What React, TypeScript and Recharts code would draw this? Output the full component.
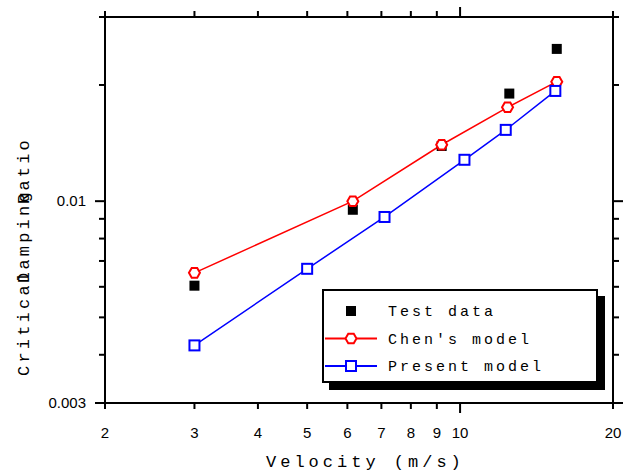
import { ComposedChart, Line, Scatter, XAxis, YAxis, Legend } from 'recharts'

const X_TICKS = [2, 3, 4, 5, 6, 7, 8, 9, 10, 20]
const Y_TICKS = [0.003, 0.004, 0.005, 0.006, 0.007, 0.008, 0.009, 0.01, 0.02, 0.03]
const Y_LABELED = [0.003, 0.01]
const X_MAJOR = [10]
const Y_MAJOR = [0.003, 0.01]

const testVel = [3, 6.15, 9.2, 12.5, 15.5]
const testRatio = [0.00604, 0.0095, 0.0139, 0.019, 0.0248]

const chenVel = [3, 6.15, 9.2, 12.4, 15.5]
const chenRatio = [0.00652, 0.01, 0.014, 0.0175, 0.0204]

const presentVel = [3, 5, 7.1, 10.2, 12.3, 15.4]
const presentRatio = [0.00423, 0.00668, 0.0091, 0.0128, 0.0153, 0.0193]

const toPoints = (xs: number[], ys: number[]) => xs.map((x, i) => ({ x, y: ys[i] }))

const testData = toPoints(testVel, testRatio)
const chenData = toPoints(chenVel, chenRatio)
const presentData = toPoints(presentVel, presentRatio)

const MONO = '"Liberation Mono", "DejaVu Sans Mono", monospace'
const SANS = '"Liberation Sans", Arial, sans-serif'

function Hexagon({ cx, cy, r = 5.5 }: { cx: number; cy: number; r?: number }) {
  const pts = [0, 1, 2, 3, 4, 5]
    .map((i) => {
      const a = (Math.PI / 3) * i
      return `${cx + r * Math.cos(a)},${cy + r * Math.sin(a)}`
    })
    .join(' ')
  return <polygon points={pts} fill="#fff" stroke="#ff0000" strokeWidth={2} />
}

function OpenSquare({ cx, cy }: { cx: number; cy: number }) {
  return <rect x={cx - 5} y={cy - 5} width={10} height={10} fill="#fff" stroke="#0000ff" strokeWidth={2} />
}

function FilledSquare({ cx, cy }: { cx: number; cy: number }) {
  return <rect x={cx - 5} y={cy - 5} width={10} height={10} fill="#000" />
}

function xTick(side: 'bottom' | 'top') {
  return (props: any) => {
    const { x, y, payload } = props
    const len = X_MAJOR.includes(payload.value) ? 10 : 6
    const dir = side === 'bottom' ? 1 : -1
    return (
      <g>
        <line x1={x} y1={y} x2={x} y2={y + dir * len} stroke="#000" strokeWidth={2} />
        {side === 'bottom' && (
          <text x={x} y={y + 35} textAnchor="middle" fontFamily={SANS} fontSize={15} fill="#000">
            {payload.value}
          </text>
        )}
      </g>
    )
  }
}

function yTick(side: 'left' | 'right') {
  return (props: any) => {
    const { x, y, payload } = props
    const len = Y_MAJOR.includes(payload.value) ? 10 : 6
    const dir = side === 'left' ? -1 : 1
    return (
      <g>
        <line x1={x} y1={y} x2={x + dir * len} y2={y} stroke="#000" strokeWidth={2} />
        {side === 'left' && Y_LABELED.includes(payload.value) && (
          <text x={x - 19} y={y + 5} textAnchor="end" fontFamily={SANS} fontSize={15} fill="#000">
            {payload.value}
          </text>
        )}
      </g>
    )
  }
}

function LegendBox() {
  const rows = [
    { name: 'Test data', kind: 'test' },
    { name: "Chen's model", kind: 'chen' },
    { name: 'Present model', kind: 'present' },
  ]
  return (
    <div
      style={{
        width: 272,
        height: 90,
        border: '2px solid #000',
        background: '#fff',
        boxShadow: '7px 7px 0 #000',
      }}
    >
      <svg width={272} height={90}>
        {rows.map((r, i) => {
          const cy = 20 + i * 27.5
          return (
            <g key={r.name}>
              {r.kind === 'chen' && <line x1={1} y1={cy} x2={53} y2={cy} stroke="#ff0000" strokeWidth={2} />}
              {r.kind === 'present' && <line x1={1} y1={cy} x2={53} y2={cy} stroke="#0000ff" strokeWidth={2} />}
              {r.kind === 'test' && <FilledSquare cx={27} cy={cy} />}
              {r.kind === 'chen' && <Hexagon cx={27} cy={cy} />}
              {r.kind === 'present' && <OpenSquare cx={27} cy={cy} />}
              <text x={64} y={cy + 5} fontFamily={MONO} fontSize={15} letterSpacing={3} fill="#000">
                {r.name}
              </text>
            </g>
          )
        })}
      </svg>
    </div>
  )
}

const axisLine = { stroke: '#000', strokeWidth: 2 }

export default function App() {
  return (
    <div style={{ position: 'absolute', left: 0, top: 0, background: '#fff' }}>
      <ComposedChart width={628} height={471} margin={{ top: 7, right: 5, bottom: 28, left: 45 }}>
        <XAxis
          xAxisId="b"
          dataKey="x"
          type="number"
          scale="log"
          domain={[2, 20]}
          ticks={X_TICKS}
          allowDataOverflow
          height={40}
          tickSize={0}
          tickMargin={0}
          tickLine={false}
          axisLine={axisLine}
          tick={xTick('bottom')}
          interval={0}
          label={(p: any) => {
            const vb = p.viewBox
            return (
              <text x={266} y={vb.y + 64} fontFamily={MONO} fontSize={17} letterSpacing={4} fill="#000">
                Velocity (m/s)
              </text>
            )
          }}
        />
        <XAxis
          xAxisId="t"
          orientation="top"
          dataKey="x"
          type="number"
          scale="log"
          domain={[2, 20]}
          ticks={X_TICKS}
          allowDataOverflow
          height={10}
          tickSize={0}
          tickMargin={0}
          tickLine={false}
          axisLine={axisLine}
          tick={xTick('top')}
          interval={0}
        />
        <YAxis
          yAxisId="l"
          dataKey="y"
          type="number"
          scale="log"
          domain={[0.003, 0.03]}
          ticks={Y_TICKS}
          allowDataOverflow
          width={60}
          tickSize={0}
          tickMargin={0}
          tickLine={false}
          axisLine={axisLine}
          tick={yTick('left')}
          interval={0}
          label={() => (
            <g fontFamily={MONO} fontSize={17} letterSpacing={3.2} fill="#000">
              <text x={29} y={376} transform="rotate(-90, 29, 376)">Critical</text>
              <text x={29} y={283} transform="rotate(-90, 29, 283)">Damping</text>
              <text x={29} y={204} transform="rotate(-90, 29, 204)">Ratio</text>
            </g>
          )}
        />
        <YAxis
          yAxisId="r"
          orientation="right"
          dataKey="y"
          type="number"
          scale="log"
          domain={[0.003, 0.03]}
          ticks={Y_TICKS}
          allowDataOverflow
          width={10}
          tickSize={0}
          tickMargin={0}
          tickLine={false}
          axisLine={axisLine}
          tick={yTick('right')}
          interval={0}
        />
        <Line
          xAxisId="b"
          yAxisId="l"
          data={chenData}
          dataKey="y"
          stroke="#ff0000"
          strokeWidth={1.5}
          isAnimationActive={false}
          dot={(p: any) => <Hexagon key={`c${p.index}`} cx={p.cx} cy={p.cy} />}
        />
        <Line
          xAxisId="b"
          yAxisId="l"
          data={presentData}
          dataKey="y"
          stroke="#0000ff"
          strokeWidth={1.5}
          isAnimationActive={false}
          dot={(p: any) => <OpenSquare key={`p${p.index}`} cx={p.cx} cy={p.cy} />}
        />
        <Scatter
          xAxisId="b"
          yAxisId="l"
          data={testData}
          dataKey="y"
          isAnimationActive={false}
          shape={(p: any) => <FilledSquare cx={p.cx} cy={p.cy} />}
        />
        <Legend
          layout="vertical"
          align="center"
          verticalAlign="middle"
          wrapperStyle={{ position: 'absolute', left: 322, top: 289, width: 280, height: 100, margin: 0, padding: 0 }}
          content={() => <LegendBox />}
        />
      </ComposedChart>
    </div>
  )
}
